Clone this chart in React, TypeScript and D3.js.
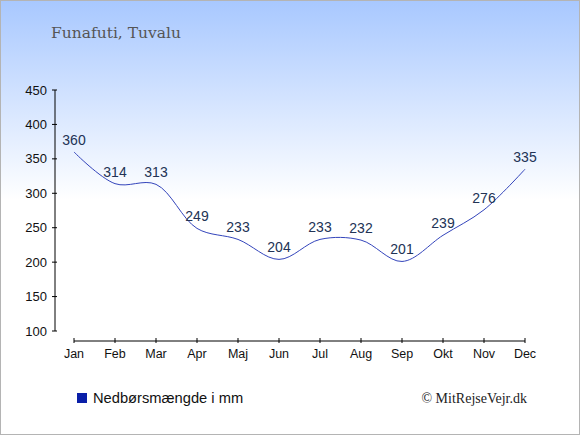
import { useEffect, useRef } from "react";
import * as d3 from "d3";

const months = ["Jan", "Feb", "Mar", "Apr", "Maj", "Jun", "Jul", "Aug", "Sep", "Okt", "Nov", "Dec"];
const rain = [360, 314, 313, 249, 233, 204, 233, 232, 201, 239, 276, 335];
const yTicks = [100, 150, 200, 250, 300, 350, 400, 450];

const title = "Funafuti, Tuvalu";
const legendLabel = "Nedbørsmængde i mm";
const credit = "© MitRejseVejr.dk";

function App() {
    const svgRef = useRef<SVGSVGElement | null>(null);

    useEffect(() => {
        if (!svgRef.current) return;

        const width = 580;
        const height = 435;

        const svg = d3.select(svgRef.current);
        svg.selectAll("*").remove();

        // background gradient
        const defs = svg.append("defs");
        const grad = defs
            .append("linearGradient")
            .attr("id", "bg")
            .attr("x1", 0)
            .attr("y1", 0)
            .attr("x2", 0)
            .attr("y2", 1);
        grad.append("stop").attr("offset", "0%").attr("stop-color", "#a8c8ff");
        grad.append("stop").attr("offset", "46%").attr("stop-color", "#ffffff");
        grad.append("stop").attr("offset", "100%").attr("stop-color", "#ffffff");

        svg
            .append("rect")
            .attr("x", 0.5)
            .attr("y", 0.5)
            .attr("width", width - 1)
            .attr("height", height - 1)
            .attr("fill", "url(#bg)")
            .attr("stroke", "#b4b4b4");

        const x = d3
            .scalePoint<string>()
            .domain(months)
            .range([74, 525]);

        const y = d3.scaleLinear().domain([100, 450]).range([331, 90]);

        // y axis
        const yAxis = svg.append("g").attr("transform", "translate(55,0)");
        yAxis
            .append("line")
            .attr("x1", 0)
            .attr("x2", 0)
            .attr("y1", y(450))
            .attr("y2", y(100))
            .attr("stroke", "#000");
        yAxis
            .selectAll("line.tick")
            .data(yTicks)
            .join("line")
            .attr("class", "tick")
            .attr("x1", -3)
            .attr("x2", 2)
            .attr("y1", (d) => y(d))
            .attr("y2", (d) => y(d))
            .attr("stroke", "#000");
        yAxis
            .selectAll("text")
            .data(yTicks)
            .join("text")
            .attr("x", -8)
            .attr("y", (d) => y(d) + 4.5)
            .attr("text-anchor", "end")
            .attr("font-family", "Liberation Sans, Arial, sans-serif")
            .attr("font-size", 13)
            .attr("fill", "#111")
            .text((d) => d);

        // x axis
        const xAxis = svg.append("g").attr("transform", "translate(0,341)");
        xAxis
            .append("line")
            .attr("x1", x(months[0])!)
            .attr("x2", x(months[months.length - 1])!)
            .attr("y1", 0)
            .attr("y2", 0)
            .attr("stroke", "#000");
        xAxis
            .selectAll("line.tick")
            .data(months)
            .join("line")
            .attr("class", "tick")
            .attr("x1", (d) => x(d)!)
            .attr("x2", (d) => x(d)!)
            .attr("y1", -3)
            .attr("y2", 2)
            .attr("stroke", "#000");
        xAxis
            .selectAll("text")
            .data(months)
            .join("text")
            .attr("x", (d) => x(d)!)
            .attr("y", 17)
            .attr("text-anchor", "middle")
            .attr("font-family", "Liberation Sans, Arial, sans-serif")
            .attr("font-size", 12.5)
            .attr("fill", "#111")
            .text((d) => d);

        // line
        const line = d3
            .line<number>()
            .x((_, i) => x(months[i])!)
            .y((d) => y(d))
            .curve(d3.curveCatmullRom);

        svg
            .append("path")
            .datum(rain)
            .attr("d", line)
            .attr("fill", "none")
            .attr("stroke", "#3344bb")
            .attr("stroke-width", 1);

        // value labels
        svg
            .append("g")
            .selectAll("text")
            .data(rain)
            .join("text")
            .attr("x", (_, i) => x(months[i])!)
            .attr("y", (d) => y(d) - 7)
            .attr("text-anchor", "middle")
            .attr("font-family", "Liberation Sans, Arial, sans-serif")
            .attr("font-size", 14)
            .attr("fill", "#223355")
            .text((d) => d);

        // title
        svg
            .append("text")
            .attr("x", 51)
            .attr("y", 38)
            .attr("font-family", "DejaVu Serif, Georgia, serif")
            .attr("font-size", 15.5)
            .attr("fill", "#555")
            .text(title);

        // legend
        svg
            .append("rect")
            .attr("x", 77)
            .attr("y", 393)
            .attr("width", 10)
            .attr("height", 10)
            .attr("fill", "#0a1fa8");
        svg
            .append("text")
            .attr("x", 93)
            .attr("y", 403)
            .attr("font-family", "Liberation Sans, Arial, sans-serif")
            .attr("font-size", 14.7)
            .attr("fill", "#111")
            .text(legendLabel);

        svg
            .append("text")
            .attr("x", 527)
            .attr("y", 403)
            .attr("text-anchor", "end")
            .attr("font-family", "Liberation Serif, Times New Roman, serif")
            .attr("font-size", 14)
            .attr("fill", "#222")
            .text(credit);
    }, []);

    return (
        <div style={{ position: "absolute", left: 0, top: 0 }}>
            <svg ref={svgRef} width={580} height={435} style={{ display: "block" }}></svg>
        </div>
    );
}

export default App;
